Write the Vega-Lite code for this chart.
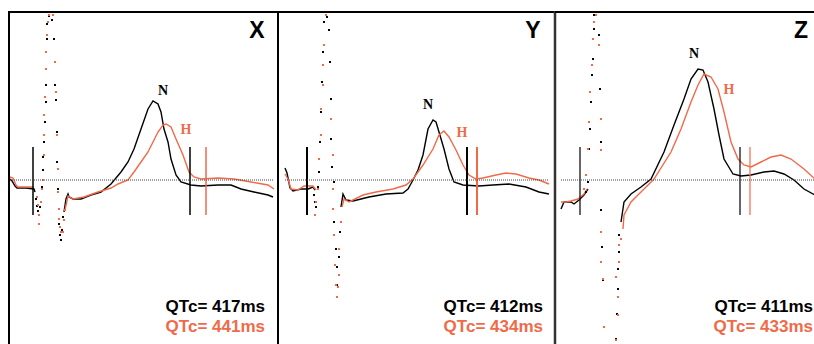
{
"$schema": "https://vega.github.io/schema/vega-lite/v6.json",
"padding": {"left": 8, "top": 9, "right": 0, "bottom": 0},
"spacing": 0,
"bounds": "flush",
"config": {"view": {"stroke": null}, "concat": {"spacing": 0}},
"datasets": {
"one": [{}],
"wave": [
{"p":"X","s":"N","g":1,"t":1,"v":1},{"p":"X","s":"N","g":1,"t":3,"v":-1},{"p":"X","s":"N","g":1,"t":6,"v":-6},{"p":"X","s":"N","g":1,"t":8,"v":-8},{"p":"X","s":"N","g":1,"t":17,"v":-8},{"p":"X","s":"N","g":1,"t":25,"v":-9},{"p":"X","s":"N","g":1,"t":26,"v":-12},
{"p":"X","s":"H","g":1,"t":1,"v":3},{"p":"X","s":"H","g":1,"t":4,"v":2},{"p":"X","s":"H","g":1,"t":7,"v":-5},{"p":"X","s":"H","g":1,"t":9,"v":-7},{"p":"X","s":"H","g":1,"t":25,"v":-7},
{"p":"X","s":"N","g":2,"t":55,"v":-32},{"p":"X","s":"N","g":2,"t":57,"v":-19},{"p":"X","s":"N","g":2,"t":59,"v":-14},{"p":"X","s":"N","g":2,"t":60,"v":-17},{"p":"X","s":"N","g":2,"t":64,"v":-19},{"p":"X","s":"N","g":2,"t":72,"v":-19},{"p":"X","s":"N","g":2,"t":82,"v":-15},{"p":"X","s":"N","g":2,"t":92,"v":-12},{"p":"X","s":"N","g":2,"t":102,"v":-4},{"p":"X","s":"N","g":2,"t":112,"v":8},{"p":"X","s":"N","g":2,"t":119,"v":18},{"p":"X","s":"N","g":2,"t":125,"v":31},{"p":"X","s":"N","g":2,"t":132,"v":51},{"p":"X","s":"N","g":2,"t":139,"v":71},{"p":"X","s":"N","g":2,"t":144,"v":79},{"p":"X","s":"N","g":2,"t":149,"v":76},{"p":"X","s":"N","g":2,"t":152,"v":68},{"p":"X","s":"N","g":2,"t":155,"v":51},{"p":"X","s":"N","g":2,"t":159,"v":38},{"p":"X","s":"N","g":2,"t":162,"v":21},{"p":"X","s":"N","g":2,"t":167,"v":5},{"p":"X","s":"N","g":2,"t":172,"v":-2},{"p":"X","s":"N","g":2,"t":182,"v":-5},{"p":"X","s":"N","g":2,"t":192,"v":-6},{"p":"X","s":"N","g":2,"t":209,"v":-5},{"p":"X","s":"N","g":2,"t":222,"v":-5},{"p":"X","s":"N","g":2,"t":232,"v":-9},{"p":"X","s":"N","g":2,"t":245,"v":-12},{"p":"X","s":"N","g":2,"t":259,"v":-15},{"p":"X","s":"N","g":2,"t":264,"v":-17},
{"p":"X","s":"H","g":2,"t":56,"v":-30},{"p":"X","s":"H","g":2,"t":59,"v":-16},{"p":"X","s":"H","g":2,"t":64,"v":-19},{"p":"X","s":"H","g":2,"t":75,"v":-17},{"p":"X","s":"H","g":2,"t":89,"v":-12},{"p":"X","s":"H","g":2,"t":102,"v":-8},{"p":"X","s":"H","g":2,"t":109,"v":-4},{"p":"X","s":"H","g":2,"t":119,"v":0},{"p":"X","s":"H","g":2,"t":125,"v":8},{"p":"X","s":"H","g":2,"t":132,"v":18},{"p":"X","s":"H","g":2,"t":139,"v":28},{"p":"X","s":"H","g":2,"t":144,"v":38},{"p":"X","s":"H","g":2,"t":149,"v":48},{"p":"X","s":"H","g":2,"t":154,"v":55},{"p":"X","s":"H","g":2,"t":157,"v":56},{"p":"X","s":"H","g":2,"t":162,"v":53},{"p":"X","s":"H","g":2,"t":167,"v":41},{"p":"X","s":"H","g":2,"t":174,"v":25},{"p":"X","s":"H","g":2,"t":180,"v":8},{"p":"X","s":"H","g":2,"t":185,"v":3},{"p":"X","s":"H","g":2,"t":192,"v":1},{"p":"X","s":"H","g":2,"t":209,"v":2},{"p":"X","s":"H","g":2,"t":225,"v":1},{"p":"X","s":"H","g":2,"t":242,"v":-2},{"p":"X","s":"H","g":2,"t":259,"v":-5},{"p":"X","s":"H","g":2,"t":265,"v":-9},
{"p":"Y","s":"N","g":1,"t":7,"v":12},{"p":"Y","s":"N","g":1,"t":9,"v":7},{"p":"Y","s":"N","g":1,"t":12,"v":-8},{"p":"Y","s":"N","g":1,"t":15,"v":-11},{"p":"Y","s":"N","g":1,"t":23,"v":-9},{"p":"Y","s":"N","g":1,"t":30,"v":-9},{"p":"Y","s":"N","g":1,"t":35,"v":-7},{"p":"Y","s":"N","g":1,"t":37,"v":-10},
{"p":"Y","s":"H","g":1,"t":7,"v":6},{"p":"Y","s":"H","g":1,"t":10,"v":1},{"p":"Y","s":"H","g":1,"t":13,"v":-9},{"p":"Y","s":"H","g":1,"t":20,"v":-10},{"p":"Y","s":"H","g":1,"t":26,"v":-6},{"p":"Y","s":"H","g":1,"t":35,"v":-6},{"p":"Y","s":"H","g":1,"t":38,"v":-10},
{"p":"Y","s":"N","g":2,"t":63,"v":-27},{"p":"Y","s":"N","g":2,"t":65,"v":-14},{"p":"Y","s":"N","g":2,"t":68,"v":-20},{"p":"Y","s":"N","g":2,"t":75,"v":-21},{"p":"Y","s":"N","g":2,"t":91,"v":-17},{"p":"Y","s":"N","g":2,"t":108,"v":-14},{"p":"Y","s":"N","g":2,"t":125,"v":-13},{"p":"Y","s":"N","g":2,"t":130,"v":-9},{"p":"Y","s":"N","g":2,"t":135,"v":0},{"p":"Y","s":"N","g":2,"t":140,"v":10},{"p":"Y","s":"N","g":2,"t":145,"v":25},{"p":"Y","s":"N","g":2,"t":150,"v":51},{"p":"Y","s":"N","g":2,"t":155,"v":60},{"p":"Y","s":"N","g":2,"t":158,"v":58},{"p":"Y","s":"N","g":2,"t":161,"v":48},{"p":"Y","s":"N","g":2,"t":166,"v":31},{"p":"Y","s":"N","g":2,"t":171,"v":11},{"p":"Y","s":"N","g":2,"t":176,"v":-2},{"p":"Y","s":"N","g":2,"t":185,"v":-5},{"p":"Y","s":"N","g":2,"t":201,"v":-6},{"p":"Y","s":"N","g":2,"t":215,"v":-5},{"p":"Y","s":"N","g":2,"t":231,"v":-4},{"p":"Y","s":"N","g":2,"t":248,"v":-7},{"p":"Y","s":"N","g":2,"t":261,"v":-12},{"p":"Y","s":"N","g":2,"t":271,"v":-14},
{"p":"Y","s":"H","g":2,"t":64,"v":-27},{"p":"Y","s":"H","g":2,"t":66,"v":-19},{"p":"Y","s":"H","g":2,"t":71,"v":-22},{"p":"Y","s":"H","g":2,"t":85,"v":-15},{"p":"Y","s":"H","g":2,"t":98,"v":-12},{"p":"Y","s":"H","g":2,"t":115,"v":-9},{"p":"Y","s":"H","g":2,"t":128,"v":-5},{"p":"Y","s":"H","g":2,"t":135,"v":1},{"p":"Y","s":"H","g":2,"t":145,"v":15},{"p":"Y","s":"H","g":2,"t":155,"v":31},{"p":"Y","s":"H","g":2,"t":161,"v":45},{"p":"Y","s":"H","g":2,"t":166,"v":49},{"p":"Y","s":"H","g":2,"t":171,"v":43},{"p":"Y","s":"H","g":2,"t":178,"v":30},{"p":"Y","s":"H","g":2,"t":185,"v":15},{"p":"Y","s":"H","g":2,"t":191,"v":5},{"p":"Y","s":"H","g":2,"t":198,"v":1},{"p":"Y","s":"H","g":2,"t":205,"v":2},{"p":"Y","s":"H","g":2,"t":218,"v":5},{"p":"Y","s":"H","g":2,"t":228,"v":7},{"p":"Y","s":"H","g":2,"t":238,"v":6},{"p":"Y","s":"H","g":2,"t":251,"v":2},{"p":"Y","s":"H","g":2,"t":261,"v":0},{"p":"Y","s":"H","g":2,"t":271,"v":-4},
{"p":"Z","s":"N","g":1,"t":6,"v":-29},{"p":"Z","s":"N","g":1,"t":9,"v":-22},{"p":"Z","s":"N","g":1,"t":16,"v":-22},{"p":"Z","s":"N","g":1,"t":19,"v":-24},{"p":"Z","s":"N","g":1,"t":24,"v":-20},{"p":"Z","s":"N","g":1,"t":29,"v":-15},{"p":"Z","s":"N","g":1,"t":33,"v":-9},
{"p":"Z","s":"H","g":1,"t":6,"v":-22},{"p":"Z","s":"H","g":1,"t":11,"v":-22},{"p":"Z","s":"H","g":1,"t":16,"v":-21},{"p":"Z","s":"H","g":1,"t":23,"v":-19},{"p":"Z","s":"H","g":1,"t":29,"v":-14},{"p":"Z","s":"H","g":1,"t":32,"v":-9},
{"p":"Z","s":"N","g":2,"t":66,"v":-42},{"p":"Z","s":"N","g":2,"t":69,"v":-22},{"p":"Z","s":"N","g":2,"t":76,"v":-14},{"p":"Z","s":"N","g":2,"t":86,"v":-7},{"p":"Z","s":"N","g":2,"t":96,"v":1},{"p":"Z","s":"N","g":2,"t":109,"v":28},{"p":"Z","s":"N","g":2,"t":119,"v":55},{"p":"Z","s":"N","g":2,"t":129,"v":81},{"p":"Z","s":"N","g":2,"t":136,"v":101},{"p":"Z","s":"N","g":2,"t":143,"v":111},{"p":"Z","s":"N","g":2,"t":148,"v":110},{"p":"Z","s":"N","g":2,"t":153,"v":98},{"p":"Z","s":"N","g":2,"t":159,"v":71},{"p":"Z","s":"N","g":2,"t":164,"v":45},{"p":"Z","s":"N","g":2,"t":169,"v":21},{"p":"Z","s":"N","g":2,"t":178,"v":6},{"p":"Z","s":"N","g":2,"t":186,"v":4},{"p":"Z","s":"N","g":2,"t":196,"v":5},{"p":"Z","s":"N","g":2,"t":209,"v":8},{"p":"Z","s":"N","g":2,"t":219,"v":9},{"p":"Z","s":"N","g":2,"t":229,"v":6},{"p":"Z","s":"N","g":2,"t":239,"v":0},{"p":"Z","s":"N","g":2,"t":249,"v":-9},{"p":"Z","s":"N","g":2,"t":260,"v":-15},
{"p":"Z","s":"H","g":2,"t":68,"v":-49},{"p":"Z","s":"H","g":2,"t":69,"v":-35},{"p":"Z","s":"H","g":2,"t":76,"v":-22},{"p":"Z","s":"H","g":2,"t":86,"v":-12},{"p":"Z","s":"H","g":2,"t":99,"v":1},{"p":"Z","s":"H","g":2,"t":116,"v":28},{"p":"Z","s":"H","g":2,"t":126,"v":51},{"p":"Z","s":"H","g":2,"t":136,"v":78},{"p":"Z","s":"H","g":2,"t":143,"v":95},{"p":"Z","s":"H","g":2,"t":149,"v":106},{"p":"Z","s":"H","g":2,"t":156,"v":103},{"p":"Z","s":"H","g":2,"t":163,"v":91},{"p":"Z","s":"H","g":2,"t":169,"v":68},{"p":"Z","s":"H","g":2,"t":176,"v":38},{"p":"Z","s":"H","g":2,"t":183,"v":21},{"p":"Z","s":"H","g":2,"t":189,"v":15},{"p":"Z","s":"H","g":2,"t":196,"v":13},{"p":"Z","s":"H","g":2,"t":206,"v":18},{"p":"Z","s":"H","g":2,"t":216,"v":23},{"p":"Z","s":"H","g":2,"t":226,"v":25},{"p":"Z","s":"H","g":2,"t":236,"v":21},{"p":"Z","s":"H","g":2,"t":249,"v":11},{"p":"Z","s":"H","g":2,"t":260,"v":1}
],
"dots": [
{"p":"X","s":"N","t":27,"v":-19},{"p":"X","s":"N","t":28,"v":-26},{"p":"X","s":"N","t":29,"v":-31},{"p":"X","s":"N","t":30,"v":-35},{"p":"X","s":"N","t":31,"v":-27},{"p":"X","s":"N","t":33,"v":-7},{"p":"X","s":"N","t":34,"v":10},{"p":"X","s":"N","t":34,"v":23},{"p":"X","s":"N","t":35,"v":38},{"p":"X","s":"N","t":36,"v":58},{"p":"X","s":"N","t":37,"v":78},{"p":"X","s":"N","t":37,"v":95},{"p":"X","s":"N","t":37,"v":111},{"p":"X","s":"N","t":37,"v":128},{"p":"X","s":"N","t":38,"v":141},{"p":"X","s":"N","t":38,"v":156},{"p":"X","s":"N","t":40,"v":164},{"p":"X","s":"N","t":43,"v":160},{"p":"X","s":"N","t":45,"v":141},{"p":"X","s":"N","t":46,"v":118},{"p":"X","s":"N","t":46,"v":95},{"p":"X","s":"N","t":47,"v":80},{"p":"X","s":"N","t":48,"v":48},{"p":"X","s":"N","t":48,"v":18},{"p":"X","s":"N","t":49,"v":-9},{"p":"X","s":"N","t":50,"v":-29},{"p":"X","s":"N","t":50,"v":-44},{"p":"X","s":"N","t":51,"v":-55},{"p":"X","s":"N","t":52,"v":-60},{"p":"X","s":"N","t":53,"v":-50},{"p":"X","s":"N","t":54,"v":-37},
{"p":"X","s":"H","t":28,"v":-17},{"p":"X","s":"H","t":29,"v":-25},{"p":"X","s":"H","t":30,"v":-35},{"p":"X","s":"H","t":30,"v":-44},{"p":"X","s":"H","t":32,"v":-22},{"p":"X","s":"H","t":33,"v":-9},{"p":"X","s":"H","t":34,"v":0},{"p":"X","s":"H","t":35,"v":25},{"p":"X","s":"H","t":35,"v":45},{"p":"X","s":"H","t":35,"v":65},{"p":"X","s":"H","t":36,"v":83},{"p":"X","s":"H","t":37,"v":111},{"p":"X","s":"H","t":37,"v":128},{"p":"X","s":"H","t":38,"v":145},{"p":"X","s":"H","t":39,"v":158},{"p":"X","s":"H","t":40,"v":165},{"p":"X","s":"H","t":44,"v":165},{"p":"X","s":"H","t":46,"v":118},{"p":"X","s":"H","t":47,"v":88},{"p":"X","s":"H","t":48,"v":45},{"p":"X","s":"H","t":49,"v":11},{"p":"X","s":"H","t":49,"v":-12},{"p":"X","s":"H","t":50,"v":-29},{"p":"X","s":"H","t":50,"v":-39},{"p":"X","s":"H","t":51,"v":-47},{"p":"X","s":"H","t":52,"v":-52},{"p":"X","s":"H","t":54,"v":-52},{"p":"X","s":"H","t":55,"v":-40},{"p":"X","s":"H","t":56,"v":-30},
{"p":"Y","s":"N","t":36,"v":-15},{"p":"Y","s":"N","t":37,"v":-22},{"p":"Y","s":"N","t":38,"v":-27},{"p":"Y","s":"N","t":40,"v":-7},{"p":"Y","s":"N","t":41,"v":8},{"p":"Y","s":"N","t":42,"v":38},{"p":"Y","s":"N","t":43,"v":68},{"p":"Y","s":"N","t":44,"v":98},{"p":"Y","s":"N","t":45,"v":128},{"p":"Y","s":"N","t":46,"v":158},{"p":"Y","s":"N","t":49,"v":163},{"p":"Y","s":"N","t":51,"v":150},{"p":"Y","s":"N","t":52,"v":118},{"p":"Y","s":"N","t":53,"v":81},{"p":"Y","s":"N","t":53,"v":41},{"p":"Y","s":"N","t":54,"v":13},{"p":"Y","s":"N","t":56,"v":-2},{"p":"Y","s":"N","t":56,"v":-42},{"p":"Y","s":"N","t":58,"v":-69},{"p":"Y","s":"N","t":59,"v":-87},{"p":"Y","s":"N","t":59,"v":-105},{"p":"Y","s":"N","t":61,"v":-77},{"p":"Y","s":"N","t":62,"v":-52},
{"p":"Y","s":"H","t":37,"v":-35},{"p":"Y","s":"H","t":38,"v":-22},{"p":"Y","s":"H","t":40,"v":-9},{"p":"Y","s":"H","t":41,"v":21},{"p":"Y","s":"H","t":43,"v":45},{"p":"Y","s":"H","t":43,"v":71},{"p":"Y","s":"H","t":45,"v":95},{"p":"Y","s":"H","t":45,"v":115},{"p":"Y","s":"H","t":46,"v":135},{"p":"Y","s":"H","t":48,"v":165},{"p":"Y","s":"H","t":50,"v":168},{"p":"Y","s":"H","t":53,"v":61},{"p":"Y","s":"H","t":55,"v":25},{"p":"Y","s":"H","t":55,"v":-9},{"p":"Y","s":"H","t":55,"v":-29},{"p":"Y","s":"H","t":56,"v":-55},{"p":"Y","s":"H","t":57,"v":-85},{"p":"Y","s":"H","t":58,"v":-105},{"p":"Y","s":"H","t":59,"v":-117},{"p":"Y","s":"H","t":60,"v":-107},{"p":"Y","s":"H","t":61,"v":-95},{"p":"Y","s":"H","t":61,"v":-69},{"p":"Y","s":"H","t":63,"v":-42},
{"p":"Z","s":"N","t":31,"v":-12},{"p":"Z","s":"N","t":33,"v":-2},{"p":"Z","s":"N","t":34,"v":31},{"p":"Z","s":"N","t":35,"v":51},{"p":"Z","s":"N","t":36,"v":78},{"p":"Z","s":"N","t":37,"v":105},{"p":"Z","s":"N","t":38,"v":121},{"p":"Z","s":"N","t":39,"v":151},{"p":"Z","s":"N","t":39,"v":165},{"p":"Z","s":"N","t":44,"v":145},{"p":"Z","s":"N","t":45,"v":91},{"p":"Z","s":"N","t":46,"v":38},{"p":"Z","s":"N","t":46,"v":-30},{"p":"Z","s":"N","t":47,"v":-67},{"p":"Z","s":"N","t":48,"v":-100},{"p":"Z","s":"N","t":61,"v":-159},{"p":"Z","s":"N","t":62,"v":-134},{"p":"Z","s":"N","t":63,"v":-109},{"p":"Z","s":"N","t":63,"v":-89},{"p":"Z","s":"N","t":64,"v":-72},{"p":"Z","s":"N","t":64,"v":-55},
{"p":"Z","s":"H","t":29,"v":-9},{"p":"Z","s":"H","t":31,"v":5},{"p":"Z","s":"H","t":33,"v":31},{"p":"Z","s":"H","t":34,"v":58},{"p":"Z","s":"H","t":35,"v":88},{"p":"Z","s":"H","t":37,"v":115},{"p":"Z","s":"H","t":38,"v":141},{"p":"Z","s":"H","t":39,"v":158},{"p":"Z","s":"H","t":41,"v":165},{"p":"Z","s":"H","t":44,"v":135},{"p":"Z","s":"H","t":46,"v":61},{"p":"Z","s":"H","t":46,"v":30},{"p":"Z","s":"H","t":46,"v":-52},{"p":"Z","s":"H","t":46,"v":-82},{"p":"Z","s":"H","t":48,"v":-99},{"p":"Z","s":"H","t":49,"v":-147},{"p":"Z","s":"H","t":61,"v":-160},{"p":"Z","s":"H","t":63,"v":-135},{"p":"Z","s":"H","t":63,"v":-117},{"p":"Z","s":"H","t":61,"v":-97},{"p":"Z","s":"H","t":64,"v":-82},{"p":"Z","s":"H","t":64,"v":-65},{"p":"Z","s":"H","t":66,"v":-59}
],
"markers": [
{"p":"X","s":"N","t":24},{"p":"X","s":"N","t":181},{"p":"X","s":"H","t":197},
{"p":"Y","s":"N","t":29},{"p":"Y","s":"N","t":189},{"p":"Y","s":"H","t":199},
{"p":"Z","s":"N","t":25},{"p":"Z","s":"N","t":185},{"p":"Z","s":"H","t":195}
],
"labels": [
{"p":"X","s":"N","text":"N","t":154,"v":89},{"p":"X","s":"H","text":"H","t":177,"v":50},
{"p":"Y","s":"N","text":"N","t":150,"v":75},{"p":"Y","s":"H","text":"H","t":184,"v":47},
{"p":"Z","s":"N","text":"N","t":139,"v":126},{"p":"Z","s":"H","text":"H","t":174,"v":90}
],
"qtc": [
{"p":"X","s":"N","text":"QTc= 417ms","t":256,"v":-132},{"p":"X","s":"H","text":"QTc= 441ms","t":256,"v":-152},
{"p":"Y","s":"N","text":"QTc= 412ms","t":265,"v":-132},{"p":"Y","s":"H","text":"QTc= 434ms","t":265,"v":-152},
{"p":"Z","s":"N","text":"QTc= 411ms","t":258,"v":-132},{"p":"Z","s":"H","text":"QTc= 433ms","t":258,"v":-152}
]
},
"hconcat": [
{
"width": 269, "height": 335,
"layer": [
{"data": {"name": "wave"}, "transform": [{"filter": "datum.p === 'X'"}],
 "mark": {"type": "line", "clip": true, "strokeWidth": 1.4},
 "encoding": {
  "x": {"field": "t", "type": "quantitative", "scale": {"domain": [0, 269], "nice": false, "zero": false}, "axis": null},
  "y": {"field": "v", "type": "quantitative", "scale": {"domain": [-166, 169], "nice": false, "zero": false}, "axis": null},
  "color": {"field": "s", "type": "nominal", "scale": {"domain": ["N", "H"], "range": ["#000000", "#f06a4a"]}, "legend": null},
  "detail": {"field": "g"}
 }},
{"data": {"name": "dots"}, "transform": [{"filter": "datum.p === 'X'"}],
 "mark": {"type": "point", "shape": "square", "filled": true, "size": 4, "opacity": 1, "clip": true},
 "encoding": {"x": {"field": "t", "type": "quantitative"}, "y": {"field": "v", "type": "quantitative"}, "color": {"field": "s", "type": "nominal"}}},
{"data": {"name": "markers"}, "transform": [{"filter": "datum.p === 'X'"}],
 "mark": {"type": "rule", "strokeWidth": 1.5},
 "encoding": {"x": {"field": "t", "type": "quantitative"}, "y": {"datum": 33}, "y2": {"datum": -35}, "color": {"field": "s", "type": "nominal"}}},
{"data": {"name": "one"}, "mark": {"type": "rule", "color": "#444", "strokeWidth": 1, "strokeDash": [1, 1]},
 "encoding": {"x": {"datum": 1}, "x2": {"datum": 264}, "y": {"datum": 0}}},
{"data": {"name": "one"}, "mark": {"type": "rule", "color": "#000", "strokeWidth": 2},
 "encoding": {"x": {"datum": 0}, "y": {"datum": -166}, "y2": {"datum": 169}}},
{"data": {"name": "one"}, "mark": {"type": "rule", "color": "#000", "strokeWidth": 2},
 "encoding": {"x": {"datum": 0}, "x2": {"datum": 269}, "y": {"datum": 168}}},
{"data": {"name": "labels"}, "transform": [{"filter": "datum.p === 'X'"}],
 "mark": {"type": "text", "font": "Liberation Serif", "fontWeight": "bold", "fontSize": 14, "baseline": "middle", "align": "center"},
 "encoding": {"x": {"field": "t", "type": "quantitative"}, "y": {"field": "v", "type": "quantitative"}, "text": {"field": "text"}, "color": {"field": "s", "type": "nominal"}}},
{"data": {"name": "qtc"}, "transform": [{"filter": "datum.p === 'X'"}],
 "mark": {"type": "text", "font": "Liberation Sans", "fontWeight": "bold", "fontSize": 17, "baseline": "alphabetic", "align": "right"},
 "encoding": {"x": {"field": "t", "type": "quantitative"}, "y": {"field": "v", "type": "quantitative"}, "text": {"field": "text"}, "color": {"field": "s", "type": "nominal"}}},
{"data": {"name": "one"}, "mark": {"type": "text", "font": "Liberation Sans", "fontWeight": "bold", "fontSize": 23, "baseline": "middle", "align": "center", "color": "#000", "text": "X"},
 "encoding": {"x": {"datum": 248}, "y": {"datum": 149}}}
]
},
{
"width": 277, "height": 335,
"layer": [
{"data": {"name": "wave"}, "transform": [{"filter": "datum.p === 'Y'"}],
 "mark": {"type": "line", "clip": true, "strokeWidth": 1.4},
 "encoding": {
  "x": {"field": "t", "type": "quantitative", "scale": {"domain": [0, 277], "nice": false, "zero": false}, "axis": null},
  "y": {"field": "v", "type": "quantitative", "scale": {"domain": [-166, 169], "nice": false, "zero": false}, "axis": null},
  "color": {"field": "s", "type": "nominal", "scale": {"domain": ["N", "H"], "range": ["#000000", "#f06a4a"]}, "legend": null},
  "detail": {"field": "g"}
 }},
{"data": {"name": "dots"}, "transform": [{"filter": "datum.p === 'Y'"}],
 "mark": {"type": "point", "shape": "square", "filled": true, "size": 4, "opacity": 1, "clip": true},
 "encoding": {"x": {"field": "t", "type": "quantitative"}, "y": {"field": "v", "type": "quantitative"}, "color": {"field": "s", "type": "nominal"}}},
{"data": {"name": "markers"}, "transform": [{"filter": "datum.p === 'Y'"}],
 "mark": {"type": "rule", "strokeWidth": 2},
 "encoding": {"x": {"field": "t", "type": "quantitative"}, "y": {"datum": 33}, "y2": {"datum": -35}, "color": {"field": "s", "type": "nominal"}}},
{"data": {"name": "one"}, "mark": {"type": "rule", "color": "#444", "strokeWidth": 1, "strokeDash": [1, 1]},
 "encoding": {"x": {"datum": 7}, "x2": {"datum": 271}, "y": {"datum": 0}}},
{"data": {"name": "one"}, "mark": {"type": "rule", "color": "#000", "strokeWidth": 2},
 "encoding": {"x": {"datum": 0}, "y": {"datum": -166}, "y2": {"datum": 169}}},
{"data": {"name": "one"}, "mark": {"type": "rule", "color": "#000", "strokeWidth": 2},
 "encoding": {"x": {"datum": 0}, "x2": {"datum": 277}, "y": {"datum": 168}}},
{"data": {"name": "labels"}, "transform": [{"filter": "datum.p === 'Y'"}],
 "mark": {"type": "text", "font": "Liberation Serif", "fontWeight": "bold", "fontSize": 14, "baseline": "middle", "align": "center"},
 "encoding": {"x": {"field": "t", "type": "quantitative"}, "y": {"field": "v", "type": "quantitative"}, "text": {"field": "text"}, "color": {"field": "s", "type": "nominal"}}},
{"data": {"name": "qtc"}, "transform": [{"filter": "datum.p === 'Y'"}],
 "mark": {"type": "text", "font": "Liberation Sans", "fontWeight": "bold", "fontSize": 17, "baseline": "alphabetic", "align": "right"},
 "encoding": {"x": {"field": "t", "type": "quantitative"}, "y": {"field": "v", "type": "quantitative"}, "text": {"field": "text"}, "color": {"field": "s", "type": "nominal"}}},
{"data": {"name": "one"}, "mark": {"type": "text", "font": "Liberation Sans", "fontWeight": "bold", "fontSize": 23, "baseline": "middle", "align": "center", "color": "#000", "text": "Y"},
 "encoding": {"x": {"datum": 255}, "y": {"datum": 149}}}
]
},
{
"width": 260, "height": 335,
"layer": [
{"data": {"name": "wave"}, "transform": [{"filter": "datum.p === 'Z'"}],
 "mark": {"type": "line", "clip": true, "strokeWidth": 1.4},
 "encoding": {
  "x": {"field": "t", "type": "quantitative", "scale": {"domain": [0, 260], "nice": false, "zero": false}, "axis": null},
  "y": {"field": "v", "type": "quantitative", "scale": {"domain": [-166, 169], "nice": false, "zero": false}, "axis": null},
  "color": {"field": "s", "type": "nominal", "scale": {"domain": ["N", "H"], "range": ["#000000", "#f06a4a"]}, "legend": null},
  "detail": {"field": "g"}
 }},
{"data": {"name": "dots"}, "transform": [{"filter": "datum.p === 'Z'"}],
 "mark": {"type": "point", "shape": "square", "filled": true, "size": 4, "opacity": 1, "clip": true},
 "encoding": {"x": {"field": "t", "type": "quantitative"}, "y": {"field": "v", "type": "quantitative"}, "color": {"field": "s", "type": "nominal"}}},
{"data": {"name": "markers"}, "transform": [{"filter": "datum.p === 'Z'"}],
 "mark": {"type": "rule", "strokeWidth": 1.2},
 "encoding": {"x": {"field": "t", "type": "quantitative"}, "y": {"datum": 33}, "y2": {"datum": -35}, "color": {"field": "s", "type": "nominal"}}},
{"data": {"name": "one"}, "mark": {"type": "rule", "color": "#444", "strokeWidth": 1, "strokeDash": [1, 1]},
 "encoding": {"x": {"datum": 6}, "x2": {"datum": 260}, "y": {"datum": 0}}},
{"data": {"name": "one"}, "mark": {"type": "rule", "color": "#333", "strokeWidth": 2.5},
 "encoding": {"x": {"datum": 0}, "y": {"datum": -166}, "y2": {"datum": 169}}},
{"data": {"name": "one"}, "mark": {"type": "rule", "color": "#000", "strokeWidth": 2},
 "encoding": {"x": {"datum": 0}, "x2": {"datum": 260}, "y": {"datum": 168}}},
{"data": {"name": "labels"}, "transform": [{"filter": "datum.p === 'Z'"}],
 "mark": {"type": "text", "font": "Liberation Serif", "fontWeight": "bold", "fontSize": 14, "baseline": "middle", "align": "center"},
 "encoding": {"x": {"field": "t", "type": "quantitative"}, "y": {"field": "v", "type": "quantitative"}, "text": {"field": "text"}, "color": {"field": "s", "type": "nominal"}}},
{"data": {"name": "qtc"}, "transform": [{"filter": "datum.p === 'Z'"}],
 "mark": {"type": "text", "font": "Liberation Sans", "fontWeight": "bold", "fontSize": 17, "baseline": "alphabetic", "align": "right"},
 "encoding": {"x": {"field": "t", "type": "quantitative"}, "y": {"field": "v", "type": "quantitative"}, "text": {"field": "text"}, "color": {"field": "s", "type": "nominal"}}},
{"data": {"name": "one"}, "mark": {"type": "text", "font": "Liberation Sans", "fontWeight": "bold", "fontSize": 23, "baseline": "middle", "align": "center", "color": "#000", "text": "Z"},
 "encoding": {"x": {"datum": 246}, "y": {"datum": 149}}}
]
}
]
}
